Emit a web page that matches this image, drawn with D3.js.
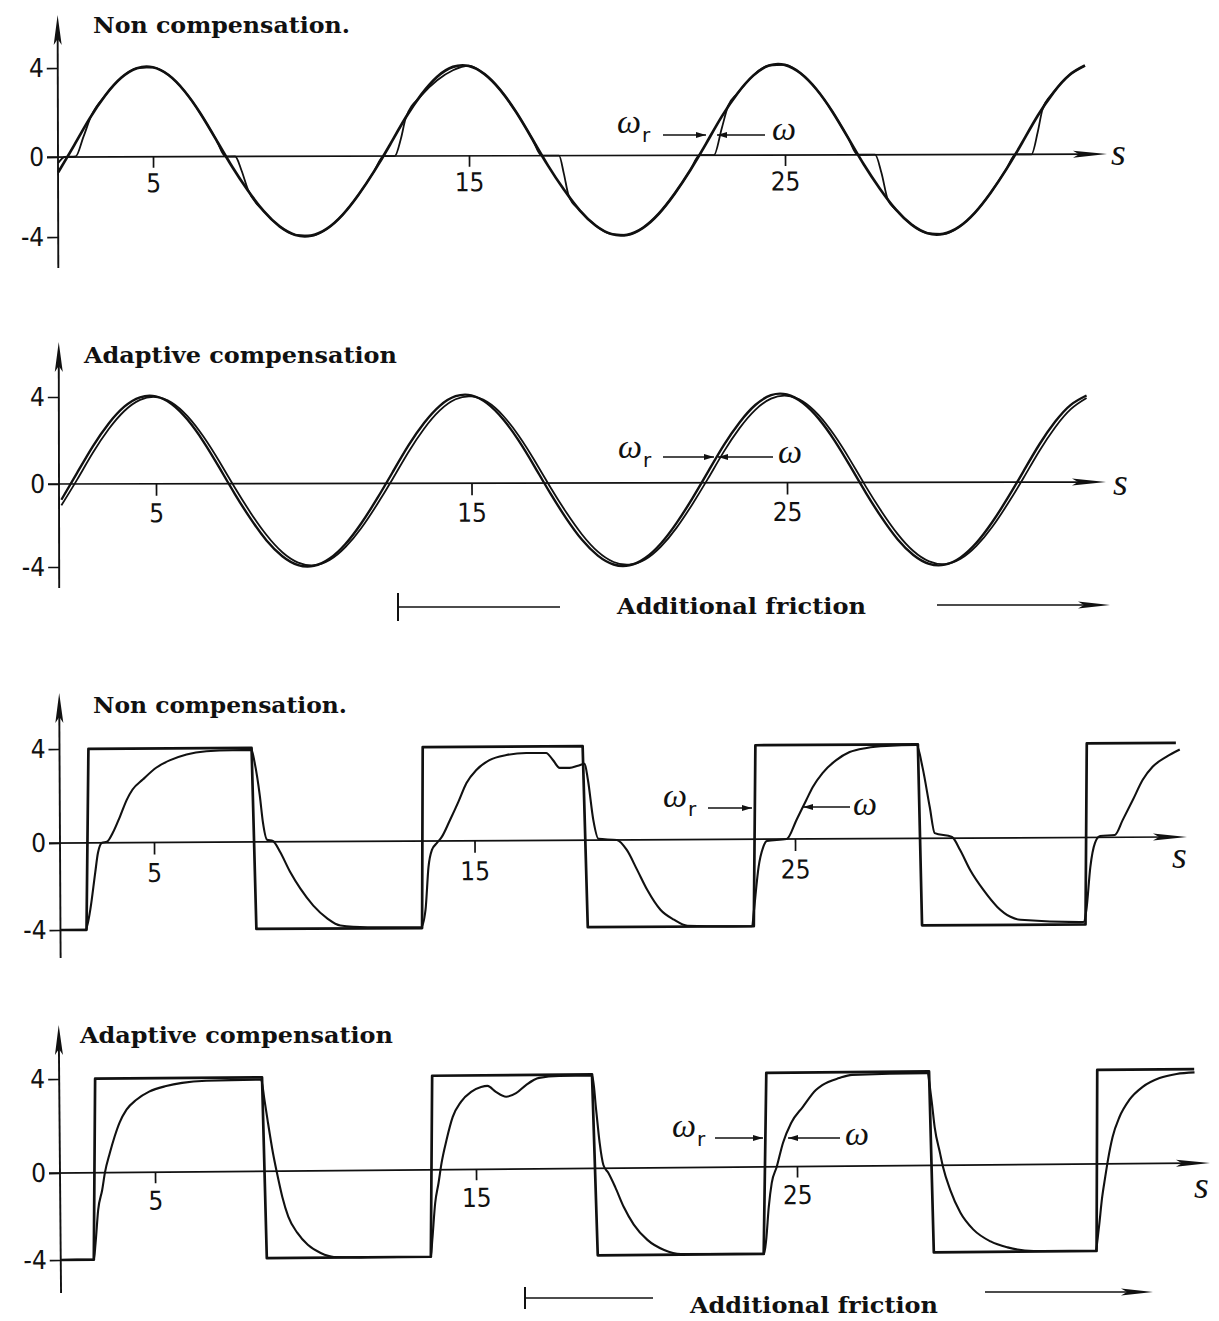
<!DOCTYPE html>
<html>
<head>
<meta charset="utf-8">
<script src="https://cdn.jsdelivr.net/npm/d3@7"></script>
<style>
  body { margin: 0; background: #fff; }
</style>
</head>
<body>
<div id="chart"></div>
<script>
window.onload = function() {

  // sine test, time grid (s)
  var sineT = [2.0,2.5,3.0,3.5,4.0,4.5,5.0,5.5,6.0,6.5,7.0,7.5,8.0,8.5,9.0,9.5,10.0,10.5,11.0,11.5,
    12.0,12.5,13.0,13.5,14.0,14.5,15.0,15.5,16.0,16.5,17.0,17.5,18.0,18.5,19.0,19.5,20.0,20.5,21.0,21.5,
    22.0,22.5,23.0,23.5,24.0,24.5,25.0,25.5,26.0,26.5,27.0,27.5,28.0,28.5,29.0,29.5,30.0,30.5,31.0,31.5,
    32.0,32.5,33.0,33.5,34.0,34.5]

  // reference speed wr, sine test
  var sineRef = [-0.76,0.51,1.73,2.77,3.55,3.98,4.02,3.67,2.95,1.95,0.76,-0.50,-1.70,-2.74,-3.50,-3.93,-3.97,-3.62,-2.92,-1.93,
    -0.75,0.51,1.73,2.77,3.56,4.00,4.04,3.67,2.95,1.95,0.76,-0.50,-1.70,-2.74,-3.50,-3.93,-3.97,-3.62,-2.92,-1.93,
    -0.75,0.51,1.73,2.77,3.57,4.02,4.05,3.67,2.95,1.95,0.76,-0.50,-1.70,-2.74,-3.50,-3.93,-3.97,-3.62,-2.92,-1.93,
    -0.75,0.51,1.73,2.77,3.55,3.98]

  // measured speed w, sine test, adaptive compensation
  var sineOmegaAdapt = [-1.03,0.20,1.43,2.51,3.35,3.86,3.99,3.74,3.11,2.18,1.04,-0.20,-1.41,-2.48,-3.31,-3.81,-3.94,-3.69,-3.07,-2.16,
    -1.03,0.20,1.43,2.51,3.35,3.86,3.99,3.74,3.11,2.18,1.04,-0.20,-1.41,-2.48,-3.31,-3.81,-3.94,-3.69,-3.07,-2.16,
    -1.03,0.20,1.43,2.51,3.35,3.86,3.99,3.74,3.11,2.18,1.04,-0.20,-1.41,-2.48,-3.31,-3.81,-3.94,-3.69,-3.07,-2.16,
    -1.03,0.20,1.43,2.51,3.35,3.86]

  // measured speed w, sine test, no compensation (sticks at zero)
  var sineOmegaT = [2.0,2.2,2.55,2.8,3.05,3.5,4.0,4.5,5.0,5.5,6.0,6.5,7.0,7.3,7.6,7.8,8.0,8.5,9.0,9.5,10.0,10.5,11.0,11.5,12.0,
    12.3,12.65,12.85,13.0,13.5,14.0,14.5,15.0,15.5,16.0,16.5,17.0,17.3,17.85,18.0,18.15,18.5,19.0,19.5,20.0,20.5,21.0,21.5,22.0,
    22.3,22.75,23.0,23.2,23.5,24.0,24.5,25.0,25.5,26.0,26.5,27.0,27.3,27.85,28.05,28.25,28.5,29.0,29.5,30.0,30.5,31.0,31.5,32.0,
    32.3,32.8,33.0,33.15,33.5,34.0,34.5]
  var sineOmegaV = [-0.3,0,0.02,0.9,1.85,2.77,3.55,3.98,4.02,3.67,2.95,1.95,0.76,0,0,-0.7,-1.65,-2.74,-3.5,-3.93,-3.97,-3.62,-2.92,-1.93,-0.75,
    0,0,0.8,1.7,2.72,3.4,3.85,4.05,3.67,2.95,1.95,0.76,0,0,-0.9,-2.0,-2.74,-3.5,-3.93,-3.97,-3.62,-2.92,-1.93,-0.75,
    0,0,1.2,2.2,2.77,3.57,4.02,4.05,3.67,2.95,1.95,0.76,0,0,-0.9,-2.25,-2.74,-3.5,-3.93,-3.97,-3.62,-2.92,-1.93,-0.75,
    0,0,1.0,2.0,2.77,3.55,3.98]

  // square test, no compensation
  var sqRefNoneT = [2.07,2.88,2.97,8.06,8.18,13.35,13.40,18.39,18.52,23.70,23.78,28.85,28.95,34.05,34.12,36.9]
  var sqRefNoneV = [-4,-4,4,4,-4,-4,4,4,-4,-4,4,4,-4,-4,4,4]
  var sqOmegaNoneT = [2.13,2.85,3.00,3.16,3.25,3.38,3.53,3.72,3.94,4.16,4.34,4.66,5.09,5.50,6.03,6.65,7.46,8.06,8.15,8.31,
    8.40,8.53,8.71,8.93,9.24,9.56,9.96,10.40,10.80,11.65,
    13.32,13.46,13.56,13.67,13.83,13.98,14.24,14.50,14.76,15.07,15.48,16.01,16.63,17.25,17.46,17.67,17.98,18.24,18.45,18.55,
    18.71,18.87,19.44,19.75,20.07,20.38,20.79,21.21,21.63,23.07,
    23.65,23.70,23.86,24.01,24.12,24.74,25.05,25.36,25.56,25.87,26.30,26.72,27.25,27.87,28.81,28.99,29.21,29.36,29.90,30.15,
    30.46,30.87,31.30,31.71,32.02,33.99,34.08,34.21,34.36,34.52,34.98,35.23,35.55,35.86,36.17,36.61,37.02]
  var sqOmegaNoneV = [-4.0,-4.0,-3.08,-1.38,-0.46,0,0.04,0.43,1.1,1.83,2.26,2.68,3.19,3.49,3.74,3.87,3.91,3.91,3.4,1.96,
    0.85,0.09,0.04,-0.46,-1.38,-2.16,-2.94,-3.54,-3.86,-3.95,
    -3.97,-3.17,-1.2,-0.41,-0.09,0.17,0.89,1.65,2.46,3.01,3.43,3.64,3.72,3.72,3.42,3.08,3.08,3.17,3.25,2.56,
    0.86,0.05,0.0,-0.46,-1.38,-2.3,-3.22,-3.68,-3.96,-4.0,
    -4.0,-3.38,-1.27,-0.35,-0.08,0.0,0.81,1.66,2.2,2.8,3.35,3.69,3.86,3.94,3.97,3.03,1.33,0.22,0.05,-0.55,
    -1.47,-2.39,-3.17,-3.63,-3.77,-3.89,-3.33,-1.36,-0.25,0.06,0.1,0.74,1.59,2.44,2.99,3.42,3.72]

  // square test, adaptive compensation
  var sqRefAdaptT = [2.04,3.07,3.16,8.36,8.46,13.57,13.66,18.64,18.77,23.94,24.07,29.14,29.24,34.31,34.38,37.4]
  var sqRefAdaptV = [-4,-4,4,4,-4,-4,4,4,-4,-4,4,4,-4,-4,4,4]
  var sqOmegaAdaptT = [2.04,3.07,3.13,3.22,3.35,3.44,3.60,3.75,3.91,4.13,4.44,4.84,5.37,5.87,6.62,8.33,8.43,8.52,8.68,8.80,
    8.96,9.14,9.42,9.74,10.14,10.55,11.60,
    13.57,13.62,13.72,13.83,13.93,14.09,14.29,14.55,14.87,15.18,15.38,15.64,15.96,16.27,16.58,16.99,17.62,18.65,18.76,18.86,
    18.97,19.12,19.33,19.59,19.90,20.32,20.84,21.36,23.95,
    24.02,24.11,24.21,24.37,24.57,24.83,25.20,25.61,25.81,26.34,26.74,29.08,29.21,29.30,29.46,29.55,29.77,30.08,30.48,31.01,
    31.54,32.35,34.28,34.38,34.50,34.60,34.69,34.84,35.06,35.37,35.79,36.32,36.85,37.41]
  var sqOmegaAdaptV = [-4.0,-4.0,-3.23,-1.71,-0.8,0,0.84,1.52,2.12,2.67,3.09,3.43,3.66,3.79,3.87,3.9,3.03,2.18,0.77,-0.09,
    -1.19,-2.1,-2.85,-3.4,-3.78,-3.97,-4.0,
    -4.0,-3.23,-1.53,-0.61,0.29,1.26,2.24,2.88,3.3,3.5,3.55,3.29,3.08,3.23,3.57,3.87,3.94,3.95,2.48,1.08,
    0.14,-0.21,-0.86,-1.78,-2.6,-3.31,-3.78,-3.97,-4.0,
    -3.37,-1.85,-0.74,0,1.01,1.86,2.54,3.25,3.46,3.75,3.88,3.92,2.78,1.63,0.52,-0.08,-1.14,-2.19,-2.97,-3.52,
    -3.8,-3.98,-4.0,-3.03,-1.52,-0.6,0.17,1.14,1.99,2.71,3.26,3.63,3.8,3.86]

  var xTicks = [5, 15, 25]
  var yTicks = [-4, 0, 4]
  var titles = ['Non compensation.', 'Adaptive compensation', 'Non compensation.', 'Adaptive compensation']


  function zip(t, v) { return t.map(function(d, i) { return [d, v[i]] }) }

  var tickFont = '"Liberation Sans Narrow", "DejaVu Sans Condensed", Roboto, sans-serif'
  var titleFont = '"DejaVu Serif", serif'

  // one entry per panel: scales are pinned to the printed tick marks
  var panels = [
    { xr: [153, 785], yr: [237, 157, 68], axX: 58, top: 15, bot: 268, end: 1107, rot: -0.16,
      tSize: 11, tPad: 6, title: [93, 33, 257], s: [1111, 165],
      series: [
        { d: zip(sineT, sineRef), w: 2.7, curve: d3.curveNatural },
        { d: zip(sineOmegaT, sineOmegaV), w: 1.8, curve: d3.curveMonotoneX }
      ],
      lab: { wx: 617, wy: 133, a1: [663, 706, 135], a2: [765, 717, 135], ox: 772, oy: 140 } },
    { xr: [156, 787], yr: [567, 484, 397], axX: 59, top: 342, bot: 588, end: 1106, rot: -0.11,
      tSize: 12, tPad: 8, title: [84, 363, 313], s: [1113, 495],
      series: [
        { d: zip(sineT, sineRef), w: 2.4, curve: d3.curveNatural },
        { d: zip(sineT, sineOmegaAdapt), w: 1.8, curve: d3.curveNatural }
      ],
      lab: { wx: 618, wy: 458, a1: [663, 714, 457], a2: [773, 718, 457], ox: 778, oy: 463 },
      fr: { bar: 398, lineEnd: 560, tx: 617, tw: 249, ty: 614, a0: 937, a1: 1110, y: 607, ay: 605, bh: 14 } },
    { xr: [154, 795], yr: [930, 843, 749], axX: 60, top: 693, bot: 958, end: 1187, rot: -0.31,
      tSize: 12, tPad: 9, title: [93, 713, 254], s: [1172, 868],
      series: [
        { d: zip(sqRefNoneT, sqRefNoneV), w: 2.7, curve: d3.curveLinear },
        { d: zip(sqOmegaNoneT, sqOmegaNoneV), w: 2.1, curve: d3.curveMonotoneX }
      ],
      lab: { wx: 663, wy: 807, a1: [708, 752, 808], a2: [850, 803, 807], ox: 853, oy: 815 } },
    { xr: [155, 797], yr: [1260, 1173, 1079], axX: 60, top: 1025, bot: 1293, end: 1210, rot: -0.5,
      tSize: 11, tPad: 8, title: [80, 1043, 313], s: [1194, 1198],
      series: [
        { d: zip(sqRefAdaptT, sqRefAdaptV), w: 2.7, curve: d3.curveLinear },
        { d: zip(sqOmegaAdaptT, sqOmegaAdaptV), w: 2.1, curve: d3.curveMonotoneX }
      ],
      lab: { wx: 672, wy: 1137, a1: [715, 763, 1138], a2: [840, 788, 1138], ox: 845, oy: 1145 },
      fr: { bar: 525, lineEnd: 653, tx: 690, tw: 248, ty: 1313, a0: 985, a1: 1153, y: 1298, ay: 1292, bh: 11 } }
  ]

  var svg = d3.select('#chart')
    .append('svg')
    .attr('width', 1219)
    .attr('height', 1321)
    .style('background', '#fff')

  var defs = svg.append('defs')
  defs.append('marker')
    .attr('id', 'head')
    .attr('viewBox', '0 0 10 6')
    .attr('refX', 10).attr('refY', 3)
    .attr('markerWidth', 10).attr('markerHeight', 6)
    .attr('markerUnits', 'userSpaceOnUse')
    .attr('orient', 'auto')
    .append('path')
    .attr('d', 'M0,0 L10,3 L0,6 Z')
    .attr('fill', '#111')

  panels.forEach(function(p, i) {
    var x = d3.scaleLinear().domain([5, 25]).range(p.xr)
    var y = d3.scaleLinear().domain([-4, 0, 4]).range(p.yr)
    var y0 = y(0)

    var g = svg.append('g')
      .attr('transform', 'rotate(' + p.rot + ',' + p.axX + ',' + y0 + ')')

    // y axis ticks and labels
    var ya = g.append('g')
      .attr('transform', 'translate(' + p.axX + ',0)')
      .call(d3.axisLeft(y).tickValues(yTicks).tickSize(11).tickPadding(3)
        .tickFormat(function(d) { return String(d) }))
    ya.select('.domain').remove()

    // x axis ticks and labels
    var xa = g.append('g')
      .attr('transform', 'translate(0,' + y0 + ')')
      .call(d3.axisBottom(x).tickValues(xTicks).tickSize(p.tSize).tickPadding(p.tPad))
    xa.select('.domain').remove()

    g.selectAll('.tick line').attr('stroke', '#111').attr('stroke-width', 1.7)
    g.selectAll('.tick text')
      .attr('fill', '#111')
      .style('font-family', tickFont)
      .style('font-size', '26px')

    // axis lines with arrow heads
    g.append('line')
      .attr('x1', p.axX).attr('y1', p.bot)
      .attr('x2', p.axX).attr('y2', p.top + 20)
      .attr('stroke', '#111').attr('stroke-width', 1.9)
    g.append('path')
      .attr('d', 'M' + p.axX + ',' + p.top + ' L' + (p.axX - 4) + ',' + (p.top + 30) +
        ' L' + p.axX + ',' + (p.top + 24) + ' L' + (p.axX + 4) + ',' + (p.top + 30) + ' Z')
      .attr('fill', '#111')

    g.append('line')
      .attr('x1', p.axX - 11).attr('y1', y0)
      .attr('x2', p.end - 20).attr('y2', y0)
      .attr('stroke', '#111').attr('stroke-width', 1.7)
    g.append('path')
      .attr('d', 'M' + p.end + ',' + y0 + ' L' + (p.end - 34) + ',' + (y0 - 3.5) +
        ' L' + (p.end - 28) + ',' + y0 + ' L' + (p.end - 34) + ',' + (y0 + 3.5) + ' Z')
      .attr('fill', '#111')

    // curves
    var line = d3.line()
      .x(function(d) { return x(d[0]) })
      .y(function(d) { return y(d[1]) })

    p.series.forEach(function(s) {
      g.append('path')
        .datum(s.d)
        .attr('d', line.curve(s.curve))
        .attr('fill', 'none')
        .attr('stroke', '#111')
        .attr('stroke-width', s.w)
        .attr('stroke-linejoin', 'round')
    })

    // title
    svg.append('text')
      .attr('x', p.title[0]).attr('y', p.title[1])
      .attr('textLength', p.title[2]).attr('lengthAdjust', 'spacingAndGlyphs')
      .style('font-family', titleFont).style('font-weight', 'bold').style('font-size', '23px')
      .attr('fill', '#111')
      .text(titles[i])

    // s label
    svg.append('text')
      .attr('x', p.s[0]).attr('y', p.s[1])
      .style('font-family', '"Liberation Serif", serif').style('font-style', 'italic')
      .style('font-size', '38px')
      .attr('fill', '#111')
      .text('s')

    // wr / w pointers
    var L = p.lab
    var wr = svg.append('text')
      .attr('x', L.wx).attr('y', L.wy)
      .attr('fill', '#111')
    wr.append('tspan')
      .style('font-family', '"Liberation Serif", serif').style('font-style', 'italic')
      .style('font-size', '34px')
      .text('ω')
    wr.append('tspan')
      .attr('dx', 1).attr('dy', 9)
      .style('font-family', '"DejaVu Sans", sans-serif').style('font-size', '20px')
      .text('r')

    svg.append('line')
      .attr('x1', L.a1[0]).attr('y1', L.a1[2]).attr('x2', L.a1[1]).attr('y2', L.a1[2])
      .attr('stroke', '#111').attr('stroke-width', 1.5).attr('marker-end', 'url(#head)')
    svg.append('line')
      .attr('x1', L.a2[0]).attr('y1', L.a2[2]).attr('x2', L.a2[1]).attr('y2', L.a2[2])
      .attr('stroke', '#111').attr('stroke-width', 1.5).attr('marker-end', 'url(#head)')
    svg.append('text')
      .attr('x', L.ox).attr('y', L.oy)
      .style('font-family', '"Liberation Serif", serif').style('font-style', 'italic')
      .style('font-size', '34px')
      .attr('fill', '#111')
      .text('ω')

    // additional friction marker
    if (p.fr) {
      var f = p.fr
      svg.append('line')
        .attr('x1', f.bar).attr('y1', f.y - f.bh).attr('x2', f.bar).attr('y2', f.y + f.bh)
        .attr('stroke', '#111').attr('stroke-width', 2)
      svg.append('line')
        .attr('x1', f.bar).attr('y1', f.y).attr('x2', f.lineEnd).attr('y2', f.y)
        .attr('stroke', '#111').attr('stroke-width', 1.7)
      svg.append('text')
        .attr('x', f.tx).attr('y', f.ty)
        .attr('textLength', f.tw).attr('lengthAdjust', 'spacingAndGlyphs')
        .style('font-family', titleFont).style('font-weight', 'bold').style('font-size', '23px')
        .attr('fill', '#111')
        .text('Additional friction')
      svg.append('line')
        .attr('x1', f.a0).attr('y1', f.ay).attr('x2', f.a1 - 20).attr('y2', f.ay)
        .attr('stroke', '#111').attr('stroke-width', 1.7)
      svg.append('path')
        .attr('d', 'M' + f.a1 + ',' + f.ay + ' L' + (f.a1 - 32) + ',' + (f.ay - 3.5) +
          ' L' + (f.a1 - 26) + ',' + f.ay + ' L' + (f.a1 - 32) + ',' + (f.ay + 3.5) + ' Z')
        .attr('fill', '#111')
    }
  })

}
</script>
</body>
</html>
